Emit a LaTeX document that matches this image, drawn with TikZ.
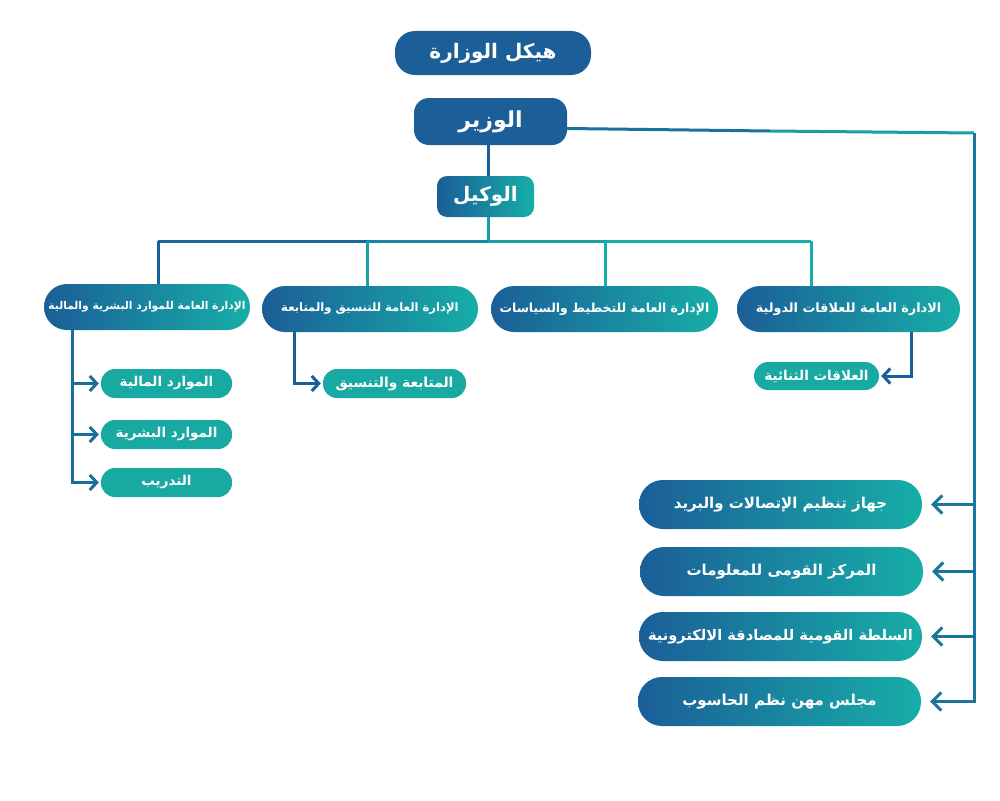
\documentclass[tikz,border=0pt]{standalone}
\usepackage{fontspec}
\newfontfamily\arfont[Script=Arabic]{DejaVu Sans}
\TeXXeTstate=1
\usetikzlibrary{arrows.meta}
\definecolor{cb}{RGB}{27,94,152}
\definecolor{ct}{RGB}{23,174,167}
\definecolor{cs}{RGB}{24,169,163}
\tikzset{
  box/.style={draw=none, text=white, inner sep=0pt, align=center},
  gbox/.style={box, left color=cb, right color=ct},
  dbox/.style={box, fill=cb},
  sbox/.style={box, fill=cs},
  fA/.style={font=\arfont\bfseries\fontsize{#1}{#1}\selectfont},
  ln/.style={line width=3pt, draw=#1},
  arr/.style={line width=3pt, draw=#1, -{Straight Barb[length=7pt,width=15pt]}, shorten >=2pt},
}
\begin{document}
\begin{tikzpicture}[x=1pt,y=-1pt]
\fill[white] (0,0) rectangle (1000,800);
\useasboundingbox (0,0) rectangle (1000,800);

% top
\node[dbox, fA=20, minimum width=196pt, minimum height=44pt, rounded corners=20pt] (title) at (493,53) {\beginR هيكل الوزارة\endR};
\node[dbox, fA=22, minimum width=153pt, minimum height=47pt, rounded corners=15pt] (min) at (490.5,121.5) {\beginR الوزير\endR};
\node[gbox, fA=20, minimum width=97pt, minimum height=41pt, rounded corners=10pt] (dep) at (485.5,196.5) {\beginR الوكيل\endR};

% level 2
\node[gbox, fA=10.7, minimum width=206pt, minimum height=46pt, rounded corners=23pt] (hrf) at (147,307) {\beginR الإدارة العامة للموارد البشرية والمالية\endR};
\node[gbox, fA=11.6, minimum width=216pt, minimum height=46pt, rounded corners=23pt] (cor) at (370,309) {\beginR الإدارة العامة للتنسيق والمتابعة\endR};
\node[gbox, fA=12.4, minimum width=227pt, minimum height=46pt, rounded corners=23pt] (pla) at (604.5,309) {\beginR الإدارة العامة للتخطيط والسياسات\endR};
\node[gbox, fA=12.8, minimum width=223pt, minimum height=46pt, rounded corners=23pt] (int) at (848.5,309) {\beginR الادارة العامة للعلاقات الدولية\endR};

% sub boxes
\node[sbox, fA=13.5, minimum width=131pt, minimum height=29pt, rounded corners=14pt] (fin) at (166.5,383.5) {\beginR الموارد المالية\endR};
\node[sbox, fA=13.5, minimum width=131pt, minimum height=29pt, rounded corners=14pt] (hum) at (166.5,434.5) {\beginR الموارد البشرية\endR};
\node[sbox, fA=13.5, minimum width=131pt, minimum height=29pt, rounded corners=14pt] (trn) at (166.5,482.5) {\beginR التدريب\endR};
\node[sbox, fA=13.8, minimum width=143pt, minimum height=29pt, rounded corners=14pt] (fol) at (394.5,383.5) {\beginR المتابعة والتنسيق\endR};
\node[sbox, fA=13.5, minimum width=125pt, minimum height=28pt, rounded corners=14pt] (bil) at (816.5,376) {\beginR العلاقات الثنائية\endR};

% right boxes
\node[gbox, fA=15, minimum width=283pt, minimum height=49pt, rounded corners=24pt] (r1) at (780.5,504.5) {\beginR جهاز تنظيم الإتصالات والبريد\endR};
\node[gbox, fA=15, minimum width=283pt, minimum height=49pt, rounded corners=24pt] (r2) at (781.5,571.5) {\beginR المركز القومى للمعلومات\endR};
\node[gbox, fA=14.6, minimum width=283pt, minimum height=49pt, rounded corners=24pt] (r3) at (780.5,636.5) {\beginR السلطة القومية للمصادقة الالكترونية\endR};
\node[gbox, fA=15, minimum width=283pt, minimum height=49pt, rounded corners=24pt] (r4) at (779.5,701.5) {\beginR مجلس مهن نظم الحاسوب\endR};

% connectors: centre trunk
\coordinate (j1) at (488,241);
\coordinate (b1) at (158,241);
\coordinate (b2) at (367,241);
\coordinate (b3) at (605,241);
\coordinate (b4) at (811,241);
\draw[ln=cb] (min.south -| j1) -- (dep.north -| j1);
\draw[ln=ct!80!cb] (dep.south -| j1) -- (j1);
\draw[ln=cb!85!ct] (b1) -- (b2);
\draw[ln=cb!50!ct] (b2) -- (j1);
\draw[ln=ct!85!cb] (j1) -- (b3);
\draw[ln=ct] (b3) -- (b4);
\draw[ln=cb] (b1) -- (hrf.north -| b1);
\draw[ln=ct!85!cb] (b2) -- (cor.north -| b2);
\draw[ln=ct] (b3) -- (pla.north -| b3);
\draw[ln=ct] (b4) -- (int.north -| b4);

% sub connectors
\coordinate (hl) at (72,0);
\coordinate (cl) at (294,0);
\coordinate (il) at (911,0);
\draw[arr=cb!80!ct] (hrf.south -| hl) |- (fin);
\draw[arr=cb!80!ct] (hrf.south -| hl) |- (hum);
\draw[arr=cb!80!ct] (hrf.south -| hl) |- (trn);
\draw[arr=cb] (cor.south -| cl) |- (fol);
\draw[arr=cb] (int.south -| il) |- (bil);

% right connectors
\coordinate (rm) at (770,131);
\coordinate (rc) at (974,133);
\draw[ln=cb!75!ct] ([yshift=-7pt]min.east) -- (rm);
\draw[ln=ct!80!cb] (rm) -- (rc);
\draw[arr=cb!70!ct, shorten >=9pt, -{Straight Barb[length=9pt,width=18pt]}] (rc) |- (r1);
\draw[arr=cb!70!ct, shorten >=9pt, -{Straight Barb[length=9pt,width=18pt]}] (rc) |- (r2);
\draw[arr=cb!70!ct, shorten >=9pt, -{Straight Barb[length=9pt,width=18pt]}] (rc) |- (r3);
\draw[arr=cb!70!ct, shorten >=9pt, -{Straight Barb[length=9pt,width=18pt]}] (rc) |- (r4);
\end{tikzpicture}
\end{document}
